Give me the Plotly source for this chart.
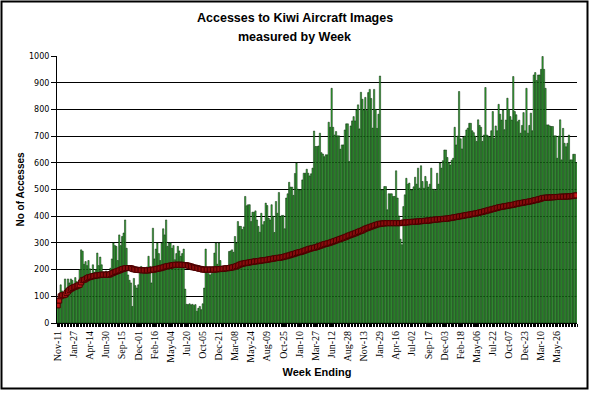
import plotly.graph_objects as go

tick_labels = ["Nov-11", "Jan-27", "Apr-14", "Jun-30", "Sep-15", "Dec-01", "Feb-16", "May-04",
               "Jul-20", "Oct-05", "Dec-21", "Mar-08", "May-24", "Aug-09", "Oct-25", "Jan-10",
               "Mar-27", "Jun-12", "Aug-28", "Nov-13", "Jan-29", "Apr-16", "Jul-02", "Sep-17",
               "Dec-03", "Feb-18", "May-06", "Jul-22", "Oct-07", "Dec-23", "Mar-10", "May-26"]
label_every = 11

title_lines = ["Accesses to Kiwi Aircraft Images", "measured by Week"]

accesses = [
    75, 100, 143, 120, 112, 165, 130, 165, 150, 165,
    160, 140, 170, 155, 150, 200, 274, 269, 220, 230,
    215, 234, 203, 185, 218, 190, 200, 262, 215, 247,
    218, 190, 185, 195, 190, 188, 205, 240, 300, 290,
    287, 234, 330, 290, 324, 337, 386, 280, 180, 160,
    150, 62, 167, 140, 131, 143, 200, 212, 185, 205,
    195, 210, 250, 212, 150, 355, 240, 277, 300, 260,
    234, 300, 353, 330, 386, 287, 300, 300, 280, 290,
    237, 260, 287, 270, 250, 260, 277, 127, 70, 69,
    72, 68, 70, 66, 69, 44, 55, 62, 50, 72,
    131, 277, 190, 185, 180, 185, 190, 262, 300, 220,
    300, 234, 205, 200, 195, 200, 210, 268, 270, 274,
    265, 324, 300, 380, 362, 362, 350, 360, 474, 439,
    443, 443, 380, 415, 415, 420, 386, 362, 340, 411,
    368, 380, 449, 440, 393, 386, 443, 400, 339, 455,
    411, 489, 399, 403, 403, 353, 468, 484, 527, 509,
    509, 478, 560, 599, 501, 499, 499, 536, 561, 561,
    576, 561, 551, 559, 580, 719, 661, 661, 663, 711,
    638, 633, 623, 630, 630, 752, 733, 879, 733, 704,
    717, 701, 701, 651, 667, 667, 723, 746, 746, 605,
    738, 757, 773, 757, 798, 817, 727, 864, 838, 798,
    845, 796, 863, 875, 841, 730, 875, 800, 729, 782,
    925, 499, 499, 511, 511, 424, 484, 484, 484, 474,
    474, 570, 468, 401, 314, 293, 436, 480, 542, 520,
    524, 499, 499, 510, 546, 520, 580, 505, 589, 530,
    505, 549, 530, 509, 520, 580, 501, 501, 496, 561,
    520, 599, 580, 608, 648, 648, 620, 600, 592, 610,
    617, 733, 667, 700, 867, 690, 652, 696, 700, 723,
    730, 748, 748, 720, 713, 700, 680, 761, 740, 733,
    680, 704, 882, 704, 700, 696, 720, 792, 692, 738,
    720, 819, 782, 760, 798, 724, 760, 842, 800, 773,
    760, 923, 792, 780, 754, 760, 711, 740, 788, 720,
    879, 711, 740, 786, 720, 929, 938, 908, 929, 929,
    950, 998, 950, 879, 742, 742, 738, 736, 736, 701,
    701, 617, 700, 761, 611, 729, 673, 660, 673, 704,
    611, 611, 632, 632, 601,
]

running_average = [
    66, 84, 100, 104, 104, 106, 112, 118, 124, 128,
    131, 134, 136, 138, 141, 143, 152, 160, 162, 164,
    168, 171, 172, 174, 175, 176, 178, 178, 179, 180,
    181, 181, 181, 181, 181, 181, 183, 186, 188, 191,
    193, 195, 197, 199, 202, 203, 205, 206, 206, 206,
    205, 203, 201, 200, 199, 199, 198, 198, 197, 197,
    197, 197, 197, 198, 199, 200, 200, 202, 203, 204,
    205, 207, 208, 210, 212, 213, 214, 215, 216, 217,
    218, 218, 218, 218, 218, 218, 217, 217, 216, 215,
    213, 212, 209, 208, 207, 206, 204, 203, 202, 200,
    200, 200, 200, 200, 200, 200, 200, 200, 201, 201,
    202, 202, 203, 203, 204, 205, 205, 206, 207, 208,
    209, 211, 213, 215, 218, 220, 222, 223, 224, 225,
    226, 227, 228, 229, 230, 231, 231, 232, 233, 234,
    235, 235, 236, 237, 238, 239, 240, 241, 242, 243,
    244, 244, 245, 246, 247, 249, 250, 252, 253, 255,
    257, 258, 260, 262, 264, 265, 266, 268, 270, 272,
    274, 276, 278, 279, 281, 282, 283, 285, 287, 289,
    291, 293, 295, 296, 298, 299, 301, 303, 305, 307,
    309, 311, 313, 315, 317, 319, 321, 323, 326, 328,
    330, 332, 334, 336, 338, 341, 343, 345, 347, 350,
    353, 355, 357, 359, 361, 363, 365, 367, 369, 370,
    372, 372, 373, 373, 374, 374, 374, 374, 374, 374,
    374, 374, 374, 374, 374, 375, 376, 376, 377, 377,
    378, 378, 379, 379, 379, 380, 380, 381, 381, 382,
    382, 383, 383, 384, 384, 385, 386, 387, 387, 388,
    388, 389, 389, 390, 390, 391, 391, 392, 393, 394,
    395, 396, 397, 398, 399, 400, 401, 402, 403, 404,
    405, 406, 407, 408, 409, 410, 411, 412, 414, 415,
    416, 418, 419, 421, 422, 424, 425, 427, 428, 430,
    431, 433, 434, 435, 436, 437, 438, 439, 440, 441,
    442, 443, 444, 446, 447, 448, 449, 450, 451, 452,
    453, 454, 455, 456, 457, 459, 460, 461, 463, 464,
    466, 468, 469, 469, 470, 470, 470, 471, 471, 471,
    472, 472, 472, 473, 473, 473, 473, 474, 474, 474,
    475, 475, 476, 477, 478,
]

weeks = list(range(len(accesses)))
tick_positions = [i * label_every for i in range(len(tick_labels))]

PLOT_W, PLOT_H = 520, 267  # plot-area size in px (for paper-coordinate conversions)

fig = go.Figure()
fig.add_trace(go.Bar(
    x=weeks, y=accesses,
    marker=dict(color="#3cba3c", line=dict(color="#001a00", width=0.5)),
    showlegend=False, hoverinfo="y",
))
fig.add_trace(go.Scatter(
    x=weeks, y=running_average, mode="lines+markers",
    line=dict(color="#5a0000", width=1.5),
    marker=dict(symbol="square", size=5, color="#c41a1a", line=dict(color="#4a0000", width=1)),
    showlegend=False,
))

fig.update_layout(
    width=589, height=393,
    paper_bgcolor="white", plot_bgcolor="white",
    margin=dict(l=57, r=12, t=56, b=70, autoexpand=False),
    bargap=0.12,
    font=dict(family="Liberation Sans", color="black"),
)

for line_text, y_px in zip(title_lines, [18, 37]):
    fig.add_annotation(
        text="<b>" + line_text + "</b>", xref="paper", yref="paper",
        x=(294.5 - 57) / PLOT_W, y=(323 - y_px) / PLOT_H,
        xanchor="center", yanchor="middle", showarrow=False,
        font=dict(family="Liberation Sans", size=12.5, color="black"),
    )

fig.update_xaxes(
    range=[-0.5, len(accesses) - 0.5],
    tickmode="array", tickvals=tick_positions, ticktext=tick_labels,
    tickangle=-90, tickfont=dict(family="Liberation Serif", size=10, color="black"),
    ticks="outside", ticklen=3, tickcolor="black", tickwidth=1,
    minor=dict(tick0=-0.5, dtick=1, ticks="outside", ticklen=3, tickcolor="black", tickwidth=1),
    showline=True, linecolor="black", linewidth=1,
    showgrid=False, zeroline=False, automargin=False,
    title=dict(text="<b>Week Ending</b>", font=dict(family="Liberation Sans", size=11, color="black"), standoff=6),
)
fig.update_yaxes(
    range=[0, 1000], dtick=100,
    tickfont=dict(family="DejaVu Sans", size=8, color="black"),
    ticks="outside", ticklen=5, tickcolor="black", tickwidth=1,
    showline=True, linecolor="black", linewidth=1,
    showgrid=True, gridcolor="black", gridwidth=1,
    zeroline=False, automargin=False,
    title=dict(text="<b>No of Accesses</b>", font=dict(family="Liberation Sans", size=10, color="black"), standoff=2),
)

# outer frame around the whole chart
fig.add_shape(type="rect", xref="paper", yref="paper",
              x0=-55.5 / PLOT_W, x1=530.5 / PLOT_W, y0=-65.5 / PLOT_H, y1=321.5 / PLOT_H,
              line=dict(color="black", width=2), fillcolor="rgba(0,0,0,0)", layer="above")

fig.write_html(
    "out.html",
    config={"displayModeBar": False},
    post_script="document.body.style.margin='0';document.body.style.overflow='hidden';",
)
